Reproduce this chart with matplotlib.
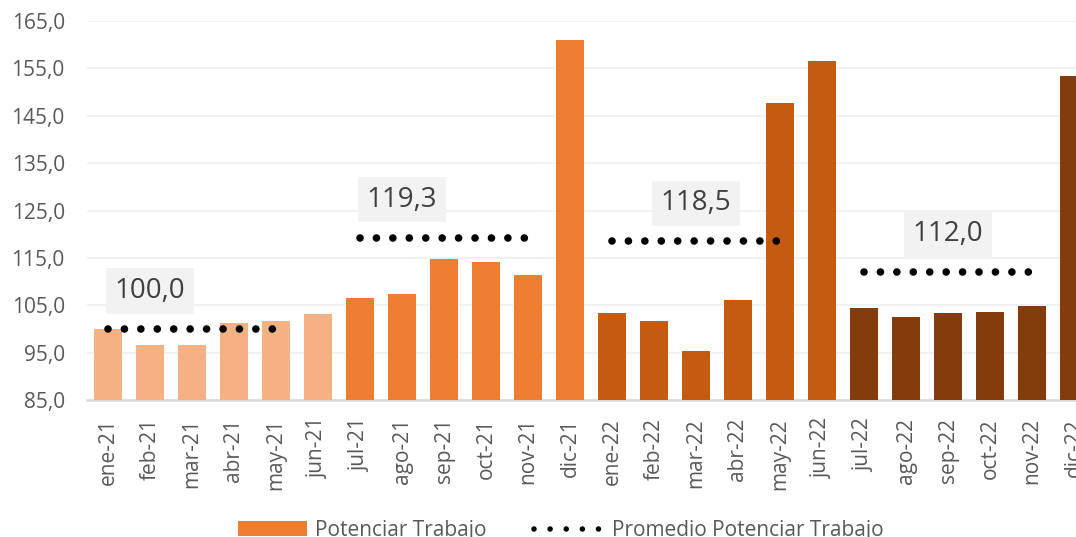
import numpy as np
import matplotlib
matplotlib.use("Agg")
import matplotlib.pyplot as plt
from matplotlib.patches import Patch
from matplotlib.lines import Line2D

plt.rcParams['font.family'] = ['Open Sans', 'DejaVu Sans']

months = ['ene-21', 'feb-21', 'mar-21', 'abr-21', 'may-21', 'jun-21',
          'jul-21', 'ago-21', 'sep-21', 'oct-21', 'nov-21', 'dic-21',
          'ene-22', 'feb-22', 'mar-22', 'abr-22', 'may-22', 'jun-22',
          'jul-22', 'ago-22', 'sep-22', 'oct-22', 'nov-22', 'dic-22']
values = [100.0, 96.6, 96.6, 101.2, 101.7, 103.1,
          106.6, 107.3, 114.8, 114.1, 111.3, 160.9,
          103.4, 101.7, 95.3, 106.1, 147.7, 156.5,
          104.4, 102.5, 103.4, 103.6, 104.8, 153.4]
# semester averages: first month index, last month index of the dotted line
avg_values = [100.0, 119.3, 118.5, 112.0]
avg_start = [0, 6, 12, 18]
avg_end = [4, 10, 16, 22]
avg_label_x = [1, 7, 14, 20]

sem_colors = ['#F4B183', '#ED7D31', '#C55A11', '#843C0C']
bar_colors = [sem_colors[i // 6] for i in range(len(months))]

fig = plt.figure(figsize=(10.76, 5.37), dpi=100)
ax = fig.add_axes([87 / 1076, 137 / 537, 1008 / 1076, 379 / 537])

x = np.arange(len(months))
ax.bar(x, values, width=0.667, color=bar_colors, zorder=2)

dot_style = dict(color='black', linewidth=5.5, linestyle=(0, (0.001, 2.15)),
                 dash_capstyle='round', zorder=3)
for v, s, e, lx in zip(avg_values, avg_start, avg_end, avg_label_x):
    xs = np.arange(s, e + 1)
    ax.plot(xs, [v] * len(xs), **dot_style)
    ax.text(lx, v + 8, f'{v:.1f}'.replace('.', ','), ha='center', va='center',
            fontsize=20, color='#404040', zorder=4,
            bbox=dict(boxstyle='square,pad=0.32', facecolor='#F2F2F2', edgecolor='none'))

ax.set_xlim(-0.5, len(months) - 0.5)
ax.set_ylim(85, 165)
yt = np.arange(85, 166, 10)
ax.set_yticks(yt)
ax.set_yticklabels([f'{t:.1f}'.replace('.', ',') for t in yt])
ax.set_xticks(x)
ax.set_xticklabels(months, rotation=90)
ax.tick_params(axis='y', length=0, pad=16, labelsize=15, labelcolor='#595959')
ax.tick_params(axis='x', length=0, pad=13, labelsize=15, labelcolor='#595959')
ax.yaxis.grid(True, color='#EFEFEF', linewidth=1.2, zorder=0)
ax.set_axisbelow(True)
for side in ['top', 'right', 'left']:
    ax.spines[side].set_visible(False)
ax.spines['bottom'].set_color('#D9D9D9')
ax.spines['bottom'].set_linewidth(1.8)
ax.spines['bottom'].set_zorder(1)

handles = [Patch(facecolor='#ED7D31', edgecolor='none'),
           Line2D([0], [0], color='black', linewidth=4.0, linestyle=(0, (0.001, 2.9)),
                  dash_capstyle='round')]
fig.legend(handles, ['Potenciar Trabajo', 'Promedio Potenciar Trabajo'],
           loc='center', bbox_to_anchor=(0.521, 0.012), ncol=2, frameon=False,
           fontsize=15, handlelength=3.3, handleheight=0.7, handletextpad=0.4,
           columnspacing=2.3, labelcolor='#595959')

fig.savefig('out.png', dpi=100)
